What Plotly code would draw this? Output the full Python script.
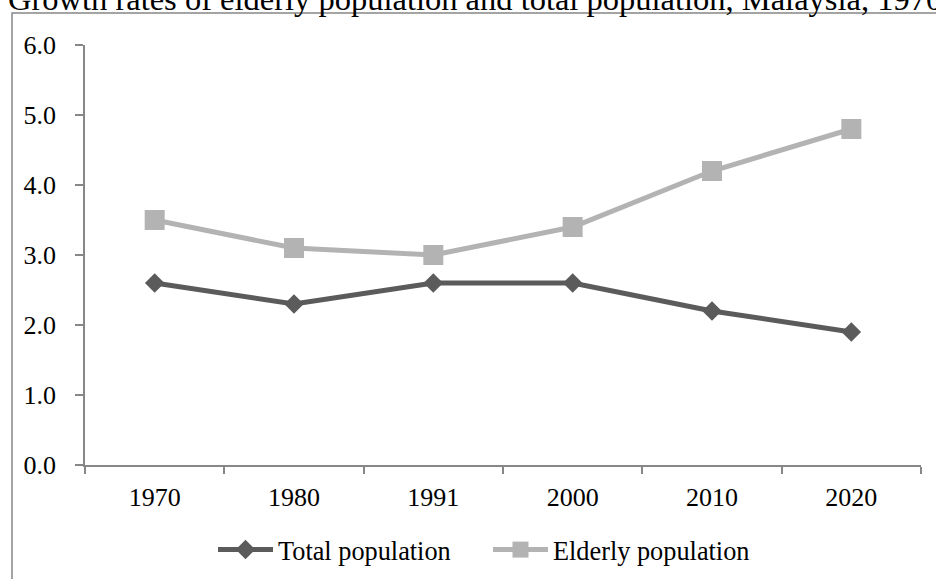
import plotly.graph_objects as go

years = ["1970", "1980", "1991", "2000", "2010", "2020"]
total_population = [2.6, 2.3, 2.6, 2.6, 2.2, 1.9]
elderly_population = [3.5, 3.1, 3.0, 3.4, 4.2, 4.8]
y_ticks = [0, 1, 2, 3, 4, 5, 6]

SERIF = "Liberation Serif, Times New Roman, serif"
AXIS_GREY = "#878787"

W, H = 936, 579
L, R, T, B = 85, 15, 45, 114
pw, ph = W - L - R, H - T - B


def px_x(x):
    return (x - L) / pw


def px_y(y):
    return (H - B - y) / ph


fig = go.Figure()
fig.add_trace(go.Scatter(
    x=years, y=total_population, name="Total population",
    mode="lines+markers",
    line=dict(color="#5b5b5b", width=5),
    marker=dict(symbol="diamond", size=15, color="#5b5b5b", line=dict(width=0)),
))
fig.add_trace(go.Scatter(
    x=years, y=elderly_population, name="Elderly population",
    mode="lines+markers",
    line=dict(color="#b3b3b3", width=5),
    marker=dict(symbol="square", size=20, color="#b3b3b3", line=dict(width=0)),
))

# outer chart frame (runs off the right and bottom edges)
fig.add_shape(
    type="rect", xref="paper", yref="paper",
    x0=px_x(12), x1=px_x(W + 20), y0=px_y(H + 20), y1=px_y(13),
    line=dict(color=AXIS_GREY, width=1.5), fillcolor="rgba(0,0,0,0)",
    layer="below",
)

fig.update_layout(
    width=W, height=H,
    margin=dict(l=L, r=R, t=T, b=B, autoexpand=False),
    paper_bgcolor="white", plot_bgcolor="white",
    font=dict(family=SERIF, size=26, color="black"),
    title=dict(
        text="Growth rates of elderly population and total population, Malaysia, 1970-2020",
        font=dict(family=SERIF, size=32.5, color="black"),
        x=8 / W, xanchor="left", xref="container",
        y=1 - 10 / H, yanchor="bottom", yref="container",
        pad=dict(t=0, b=0, l=0, r=0),
    ),
    showlegend=True,
    legend=dict(
        orientation="h", x=px_x(213), xanchor="left",
        y=px_y(550), yanchor="middle",
        font=dict(family=SERIF, size=26.3, color="black"),
        itemwidth=55, traceorder="normal",
        entrywidth=205, entrywidthmode="pixels",
        bgcolor="rgba(0,0,0,0)",
    ),
    xaxis=dict(
        type="category", tickson="boundaries", range=[-0.5, 5.5],
        showline=True, linecolor=AXIS_GREY, linewidth=1.5,
        ticks="outside", ticklen=7, tickcolor=AXIS_GREY, tickwidth=1.5,
        showgrid=False, zeroline=False,
        tickfont=dict(family=SERIF, size=26, color="black"),
        ticklabelstandoff=8,
    ),
    yaxis=dict(
        range=[0, 6], tickvals=y_ticks, tickformat=".1f",
        showline=True, linecolor=AXIS_GREY, linewidth=1.5,
        ticks="outside", ticklen=8, tickcolor=AXIS_GREY, tickwidth=1.5,
        showgrid=False, zeroline=False,
        tickfont=dict(family=SERIF, size=26, color="black"),
        ticklabelstandoff=14,
    ),
)

fig.write_html("out.html")
